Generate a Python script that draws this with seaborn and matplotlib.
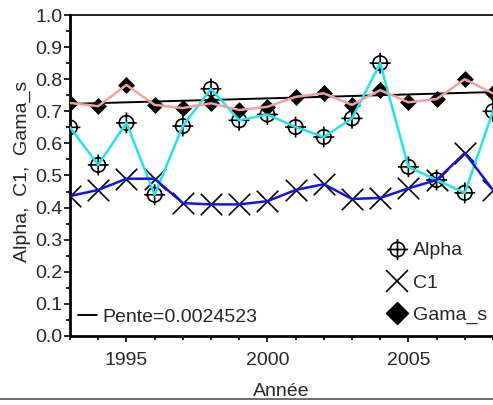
import numpy as np
import pandas as pd
import matplotlib
matplotlib.use("Agg")
import matplotlib.pyplot as plt
from matplotlib.path import Path
from matplotlib.lines import Line2D
from matplotlib.ticker import MultipleLocator, FormatStrFormatter
import seaborn as sns

# Daten
years = [1993, 1994, 1995, 1996, 1997, 1998, 1999, 2000,
         2001, 2002, 2003, 2004, 2005, 2006, 2007, 2008]
alpha = [0.65, 0.533, 0.664, 0.44, 0.654, 0.77, 0.672, 0.69,
         0.651, 0.62, 0.678, 0.85, 0.527, 0.486, 0.446, 0.70]
c1 = [0.436, 0.455, 0.49, 0.49, 0.414, 0.41, 0.41, 0.42,
      0.455, 0.473, 0.427, 0.43, 0.46, 0.486, 0.57, 0.455]
gama_s = [0.726, 0.716, 0.782, 0.72, 0.71, 0.725, 0.704, 0.714,
          0.745, 0.756, 0.72, 0.766, 0.728, 0.738, 0.80, 0.756]
trend_years = [1993, 2008.2]
trend_vals = [0.723, 0.7605]
pente_label = "Pente=0.0024523"

df = pd.DataFrame({"year": years, "Alpha": alpha, "C1": c1, "Gama_s": gama_s})
trend = pd.DataFrame({"year": trend_years, "val": trend_vals})

sns.set_style("ticks")
plt.rcParams["font.family"] = ["Liberation Sans", "DejaVu Sans"]
plt.rcParams["font.size"] = 14

# Kreis mit Kreuz als Marker
circ = Path.unit_circle()
hline = Path([[-1.45, 0], [1.45, 0]], [Path.MOVETO, Path.LINETO])
vline = Path([[0, -1.45], [0, 1.45]], [Path.MOVETO, Path.LINETO])
oplus = Path.make_compound_path(circ, hline, vline)

fig = plt.figure(figsize=(4.93, 4.05), dpi=100)
ax_w = 1.0114 - 70 / 493
ax = fig.add_axes([70 / 493, 69 / 405, ax_w, 321 / 405])
ax_wpx = ax_w * 493

# Marker zuerst, Linien darueber
sns.scatterplot(data=df, x="year", y="Alpha", marker=oplus, s=15 ** 2,
                facecolor="none", edgecolor="black", linewidth=1.2, ax=ax, zorder=2)
sns.scatterplot(data=df, x="year", y="C1", marker="x", s=15.5 ** 2,
                color="black", linewidth=1.2, ax=ax, zorder=2)
sns.scatterplot(data=df, x="year", y="Gama_s", marker="D", s=8.6 ** 2,
                color="black", linewidth=0, ax=ax, zorder=2)

sns.lineplot(data=trend, x="year", y="val", color="black", linewidth=1.4, ax=ax, zorder=3)
sns.lineplot(data=df, x="year", y="Alpha", color="#22e4f0", linewidth=1.8, ax=ax, zorder=3)
sns.lineplot(data=df, x="year", y="C1", color="#1414e6", linewidth=1.8, ax=ax, zorder=3)
sns.lineplot(data=df, x="year", y="Gama_s", color="#f4a0a0", linewidth=1.8, ax=ax, zorder=3)

ax.set_xlim(1993, 2008.2)
ax.set_ylim(0, 1.0)
ax.xaxis.set_major_locator(MultipleLocator(5))
ax.xaxis.set_minor_locator(MultipleLocator(1))
ax.yaxis.set_major_locator(MultipleLocator(0.1))
ax.yaxis.set_minor_locator(MultipleLocator(0.05))
ax.yaxis.set_major_formatter(FormatStrFormatter("%.1f"))
ax.tick_params(which="major", direction="out", length=4.5, width=1.2, labelsize=14,
               color="black", pad=1)
ax.tick_params(which="minor", direction="out", length=3, width=1.2, color="black")
ax.tick_params(axis="x", pad=7)

ax.spines["left"].set_linewidth(2)
ax.spines["bottom"].set_linewidth(2)
ax.spines["top"].set_linewidth(1.2)
ax.spines["right"].set_visible(False)
for s in ["left", "bottom", "top"]:
    ax.spines[s].set_color("black")

ax.set_xlabel("Année", fontsize=14)
ax.xaxis.set_label_coords((281 - 70) / ax_wpx, -0.145)
ax.set_ylabel("Alpha,  C1,  Gama_s", fontsize=14)
ax.yaxis.set_label_coords(-(70 - 31) / ax_wpx, 0.514)

# Legenden
h_marks = [
    Line2D([], [], linestyle="none", marker=oplus, markersize=15,
           markerfacecolor="none", markeredgecolor="black", markeredgewidth=1.2),
    Line2D([], [], linestyle="none", marker="x", markersize=15.5,
           color="black", markeredgewidth=1.2),
    Line2D([], [], linestyle="none", marker="D", markersize=11, color="black"),
]
leg1 = ax.legend(h_marks, ["Alpha", "C1", "Gama_s"], loc="lower left",
                 bbox_to_anchor=(387 / 493, (405 - 324) / 405), bbox_transform=fig.transFigure,
                 frameon=False, handlelength=1.0, handletextpad=0.35,
                 labelspacing=0.75, borderpad=0, borderaxespad=0, fontsize=14)
ax.add_artist(leg1)
h_line = [Line2D([], [], color="black", linewidth=1.4)]
ax.legend(h_line, [pente_label], loc="lower left",
          bbox_to_anchor=(78 / 493, (405 - 326) / 405), bbox_transform=fig.transFigure,
          frameon=False, handlelength=1.0, handletextpad=0.25, borderpad=0,
          borderaxespad=0, fontsize=14)

# Trennlinie unten
fig.add_artist(Line2D([0, 1], [(405 - 399) / 405] * 2, color="#555555", linewidth=1.2,
                      transform=fig.transFigure))

fig.savefig("out.png", dpi=100)
